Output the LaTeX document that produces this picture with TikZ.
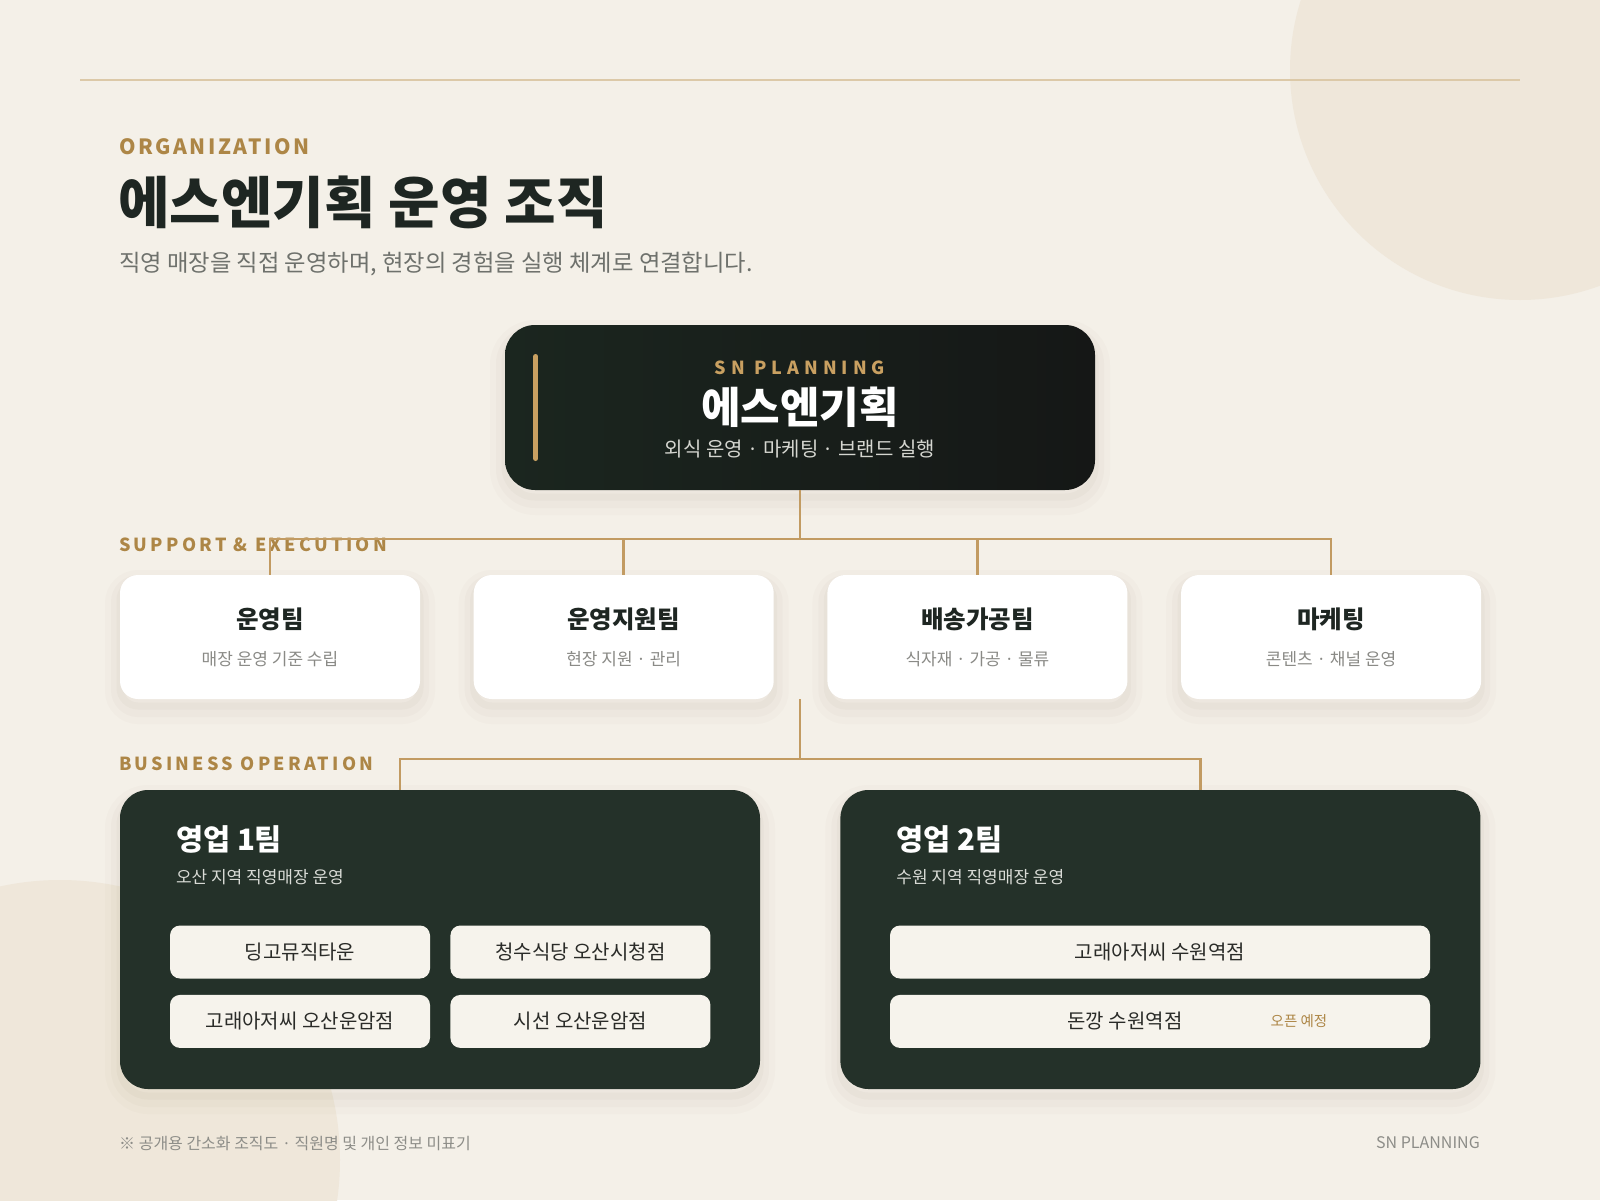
\documentclass[tikz,border=0pt]{standalone}
\usepackage{fontspec}
\setmainfont{Noto Sans CJK KR}
\newfontfamily\orgfont[LetterSpace=12]{Noto Sans CJK KR}
\newfontfamily\sectfont[LetterSpace=18]{Noto Sans CJK KR}
\newfontfamily\snfont[LetterSpace=28]{Noto Sans CJK KR}
\usetikzlibrary{positioning}
\definecolor{bgcream}{HTML}{F4F0E8}
\definecolor{blobcream}{HTML}{EFE7DA}
\definecolor{ruletan}{HTML}{DCC9A8}
\definecolor{kickgold}{HTML}{AD8646}
\definecolor{linkgold}{HTML}{C29B62}
\definecolor{barGold}{HTML}{C9A061}
\definecolor{inkdark}{HTML}{1E2622}
\definecolor{leadgray}{HTML}{6E716C}
\definecolor{snA}{HTML}{1B261F}
\definecolor{snB}{HTML}{151716}
\definecolor{snnote}{HTML}{D5D6D0}
\definecolor{notegray}{HTML}{8A8A86}
\definecolor{teamgreen}{HTML}{243129}
\definecolor{teamnote}{HTML}{D9DBD6}
\definecolor{storecream}{HTML}{F6F3EC}
\definecolor{storeink}{HTML}{2A2B28}
\definecolor{footgray}{HTML}{8D8D88}
\definecolor{shadetone}{HTML}{7A6A4E}
\newcommand{\pxsize}[1]{\fontsize{#1}{#1}\selectfont}
\tikzset{
    x=1pt, y=-1pt, % one unit is one pixel of the reference, y grows downwards
    every node/.style={inner sep=0pt},
    softshadow/.style={ % three wide faint strokes make a soft halo below the box
        preaction={draw=shadetone, draw opacity=0.025, line width=30pt, transform canvas={yshift=-10pt}},
        preaction={draw=shadetone, draw opacity=0.03, line width=18pt, transform canvas={yshift=-9pt}},
        preaction={draw=shadetone, draw opacity=0.04, line width=7pt, transform canvas={yshift=-7pt}}},
    link/.style={draw=linkgold, line width=2.5pt}, % gold connectors
    section/.style={text=kickgold, font=\sectfont\bfseries\pxsize{18}, anchor=west},
    snbox/.style={rounded corners=30pt, minimum width=590pt, minimum height=165pt, left color=snA, right color=snB, softshadow},
    card/.style={rounded corners=18pt, fill=white, minimum width=300pt, minimum height=124pt, softshadow},
    cardtitle/.style={text=inkdark, font=\bfseries\pxsize{24.5}},
    cardnote/.style={text=notegray, font=\pxsize{17}},
    team/.style={rounded corners=28pt, fill=teamgreen, minimum width=640pt, minimum height=299pt, softshadow},
    teamhead/.style={text=white, font=\bfseries\pxsize{29.5}, anchor=west},
    teamnote/.style={text=teamnote, font=\pxsize{17}, anchor=west},
    store/.style={rounded corners=10pt, fill=storecream, minimum width=260pt, minimum height=53pt, text=storeink, font=\pxsize{20}},
    foot/.style={text=footgray, font=\pxsize{16}},
    }

\begin{document}
\begin{tikzpicture}
\fill[bgcream] (0,0) rectangle (1600,1200);
\begin{scope}
\clip (0,0) rectangle (1600,1200);
\fill[blobcream] (1520,70) circle (230pt);
\fill[blobcream] (60,1160) circle (280pt);
\end{scope}
\draw[ruletan, line width=2pt] (80,80) -- (1520,80);

\node[text=kickgold, font=\orgfont\bfseries\pxsize{21}, anchor=west] (org) at (119,147) {ORGANIZATION};
\node[text=inkdark, font=\bfseries\pxsize{56}, anchor=west] (title) at (118,202) {에스엔기획 운영 조직};
\node[text=leadgray, font=\pxsize{23.3}, anchor=west] (lead) at (119,264) {직영 매장을 직접 운영하며, 현장의 경험을 실행 체계로 연결합니다.};

\node[snbox] (sn) at (800,407.5) {};
\draw[barGold, line width=5pt, line cap=round] ([xshift=31pt,yshift=51pt]sn.west) -- ([xshift=31pt,yshift=-51pt]sn.west);
\node[text=barGold, font=\snfont\bfseries\pxsize{18}] (snen) at ([yshift=39.5pt]sn.center) {SN PLANNING};
\node[text=white, font=\bfseries\pxsize{43}] (snko) at ([yshift=0pt]sn.center) {에스엔기획};
\node[text=snnote, font=\pxsize{20}] (snsub) at ([yshift=-41.5pt]sn.center) {외식 운영 · 마케팅 · 브랜드 실행};

\node[section] (sup) at (119,545) {SUPPORT \& EXECUTION};
\node[card] (c1) at (270,637) {};
\node[card, right=53.3pt of c1] (c2) {};
\node[card, right=53.3pt of c2] (c3) {};
\node[card, right=53.3pt of c3] (c4) {};
\node[cardtitle] (c1t) at ([yshift=18pt]c1.center) {운영팀};
\node[cardnote] (c1n) at ([yshift=-22pt]c1.center) {매장 운영 기준 수립};
\node[cardtitle] (c2t) at ([yshift=18pt]c2.center) {운영지원팀};
\node[cardnote] (c2n) at ([yshift=-22pt]c2.center) {현장 지원 · 관리};
\node[cardtitle] (c3t) at ([yshift=18pt]c3.center) {배송가공팀};
\node[cardnote] (c3n) at ([yshift=-22pt]c3.center) {식자재 · 가공 · 물류};
\node[cardtitle] (c4t) at ([yshift=18pt]c4.center) {마케팅};
\node[cardnote] (c4n) at ([yshift=-22pt]c4.center) {콘텐츠 · 채널 운영};

\coordinate (hub) at ([yshift=-49pt]sn.south);
\draw[link] (sn.south) -- (hub);
\draw[link] (c1.north) |- (hub) -| (c4.north);
\draw[link] (c2.north) -- (c2.north |- hub);
\draw[link] (c3.north) -- (c3.north |- hub);

\node[section] (biz) at (119,764) {BUSINESS OPERATION};
\node[team] (t1) at (440,939.5) {};
\node[team, right=80pt of t1] (t2) {};
\coordinate (hubtop) at (sn.south |- c1.south);
\coordinate (hub2) at ([yshift=-60pt]hubtop);
\coordinate (t1in) at ([xshift=-40pt]t1.north);
\coordinate (t2in) at ([xshift=40pt]t2.north);
\draw[link] (hubtop) -- (hub2);
\draw[link] (t1in) |- (hub2) -| (t2in);

\node[teamhead] (t1h) at ([xshift=56pt,yshift=-50pt]t1.north west) {영업 1팀};
\node[teamnote] (t1n) at ([xshift=56pt,yshift=-87pt]t1.north west) {오산 지역 직영매장 운영};
\node[store] (s1) at (300,952) {딩고뮤직타운};
\node[store, right=20pt of s1] (s2) {청수식당 오산시청점};
\node[store, below=16pt of s1] (s3) {고래아저씨 오산운암점};
\node[store, below=16pt of s2] (s4) {시선 오산운암점};

\node[teamhead] (t2h) at ([xshift=56pt,yshift=-50pt]t2.north west) {영업 2팀};
\node[teamnote] (t2n) at ([xshift=56pt,yshift=-87pt]t2.north west) {수원 지역 직영매장 운영};
\node[store, minimum width=540pt] (s5) at (1160,952) {고래아저씨 수원역점};
\node[store, minimum width=540pt, below=16pt of s5] (s6) {};
\node[text=storeink, font=\pxsize{20}] (s6a) at ([xshift=-35pt]s6.center) {돈깡 수원역점};
\node[text=kickgold, font=\pxsize{14.5}] (s6b) at ([xshift=139pt]s6.center) {오픈 예정};

\node[foot, anchor=west] (fl) at (119,1143) {※ 공개용 간소화 조직도 · 직원명 및 개인 정보 미표기};
\node[foot, anchor=east] (fr) at (1480,1143) {SN PLANNING};
\end{tikzpicture}
\end{document}
